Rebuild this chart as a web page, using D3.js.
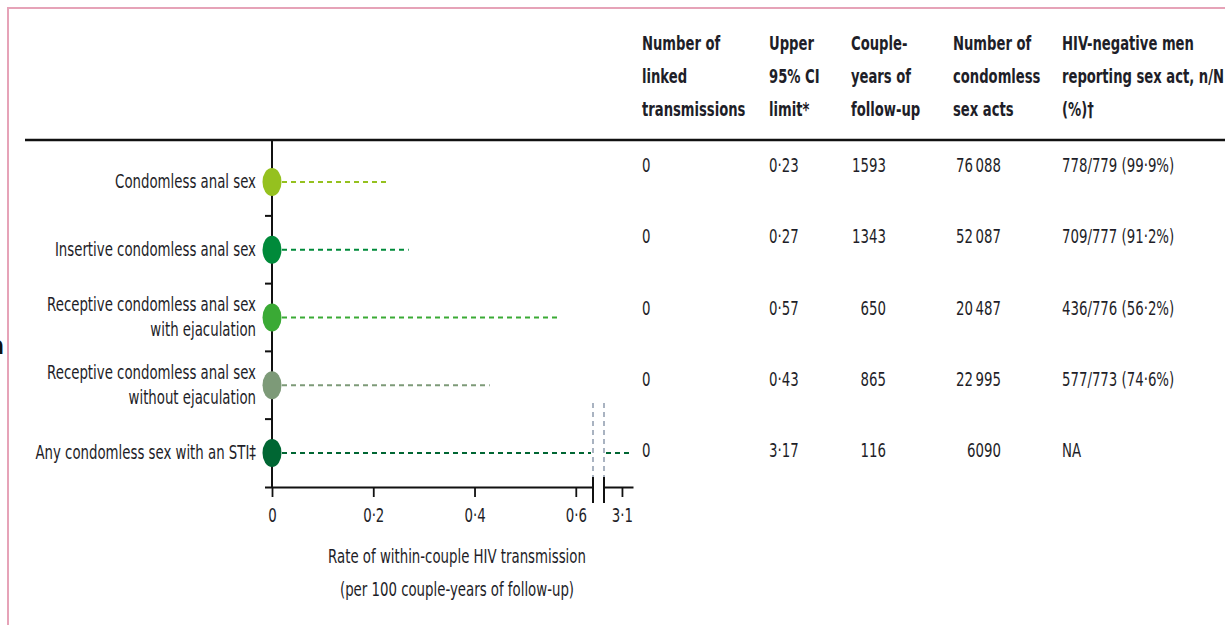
<!DOCTYPE html>
<html><head><meta charset="utf-8">
<script src="https://cdn.jsdelivr.net/npm/d3@7"></script>
<style>
html,body{margin:0;padding:0;background:#fff;}
svg{display:block;font-family:"DejaVu Sans Condensed","DejaVu Sans",sans-serif;}
</style></head>
<body>
<svg id="chart" width="1225" height="625"></svg>
<script>
// ---- data ----
const categories = [
  ["Condomless anal sex"],
  ["Insertive condomless anal sex"],
  ["Receptive condomless anal sex", "with ejaculation"],
  ["Receptive condomless anal sex", "without ejaculation"],
  ["Any condomless sex with an STI‡"]
];
const rateValues = [0, 0, 0, 0, 0];
const upperCI = [0.23, 0.27, 0.57, 0.43, 3.17];
const dotColors = ["#95c11f", "#008a3a", "#3aaa35", "#7d9a78", "#006633"];
const linkedTransmissions = ["0", "0", "0", "0", "0"];
const upperCILabels = ["0·23", "0·27", "0·57", "0·43", "3·17"];
const coupleYears = ["1593", "1343", "650", "865", "116"];
const condomlessActs = ["76\u2009088", "52\u2009087", "20\u2009487", "22\u2009995", "6090"];
const hivNegReporting = ["778/779 (99·9%)", "709/777 (91·2%)", "436/776 (56·2%)", "577/773 (74·6%)", "NA"];
const headers = [
  ["Number of", "linked", "transmissions"],
  ["Upper", "95% CI", "limit*"],
  ["Couple-", "years of", "follow-up"],
  ["Number of", "condomless", "sex acts"],
  ["HIV-negative men", "reporting sex act, n/N", "(%)†"]
];
const xTicksMain = [0, 0.2, 0.4, 0.6];
const xTickLabelsMain = ["0", "0·2", "0·4", "0·6"];
const xTicksBreak = [3.1];
const xTickLabelsBreak = ["3·1"];
const axisTitle = ["Rate of within-couple HIV transmission", "(per 100 couple-years of follow-up)"];

// ---- drawing ----
const svg = d3.select("#chart");
const textColor = "#1e1e28";
const SX = 0.78;        // horizontal condensing of text
const FS = 19;
const idx = d3.range(categories.length);

function addText(x, y, lines, opts = {}) {
  const g = svg.append("g").attr("transform", `translate(${x},${y}) scale(${opts.sx || SX},1)`);
  const t = g.append("text").attr("text-anchor", opts.anchor || "start")
    .attr("font-size", opts.fs || FS).attr("fill", opts.fill || textColor)
    .attr("font-weight", opts.weight || "normal");
  const lh = opts.lh || 25;
  const arr = Array.isArray(lines) ? lines : [lines];
  arr.forEach((l, k) => {
    t.append("tspan").attr("x", 0).attr("y", (k - (opts.center ? (arr.length - 1) / 2 : 0)) * lh).text(l);
  });
  return t;
}

const x = d3.scaleLinear().domain([0, 0.634]).range([272, 593]);
const x2 = d3.scaleLinear().domain([2.97, 3.18]).range([604, 633]);
const y = d3.scalePoint().domain(idx).range([182, 453]);
const yTable = d3.scalePoint().domain(idx).range([165, 450]);
const axisY = 487;

// pink frame
svg.append("path").attr("d", "M8,625 V8 H1225")
  .attr("fill", "none").attr("stroke", "#e6a3b8").attr("stroke-width", 2);
// stray panel letter at left edge
addText(4, 354, "a", {anchor: "end", fs: 24, weight: "bold", fill: "#111", sx: 1});

// header rule
svg.append("line").attr("x1", 25).attr("x2", 1225).attr("y1", 140).attr("y2", 140)
  .attr("stroke", "#111").attr("stroke-width", 2.5);

// table headers
const colX = [642, 769, 851, 953, 1062];
headers.forEach((lines, c) => {
  addText(colX[c], 50, lines, {weight: "bold", lh: 33, sx: 0.77});
});

// y axis line
svg.append("line").attr("x1", x(0)).attr("x2", x(0)).attr("y1", 140).attr("y2", axisY)
  .attr("stroke", "#111").attr("stroke-width", 2);
// y boundary ticks
idx.slice(0, -1).forEach(i => {
  const yy = (y(i) + y(i + 1)) / 2;
  svg.append("line").attr("x1", x(0) - 7).attr("x2", x(0)).attr("y1", yy).attr("y2", yy)
    .attr("stroke", "#111").attr("stroke-width", 2);
});

// x axis main segment
function styleAxis(g) {
  g.select(".domain").attr("stroke", "#111").attr("stroke-width", 2);
  g.selectAll(".tick line").attr("stroke", "#111").attr("stroke-width", 1.8);
  g.selectAll(".tick text").attr("font-size", FS).attr("fill", textColor)
    .attr("font-family", "DejaVu Sans Condensed, DejaVu Sans, sans-serif")
    .attr("transform", `scale(${SX},1)`);
}
const gMain = svg.append("g").attr("transform", `translate(0,${axisY})`)
  .call(d3.axisBottom(x).tickValues(xTicksMain)
    .tickFormat((d, i) => xTickLabelsMain[i]).tickSizeInner(10).tickSizeOuter(0).tickPadding(12));
styleAxis(gMain);
gMain.select(".domain").attr("d", `M265,0.5H${x.range()[1]}`);

const gBreak = svg.append("g").attr("transform", `translate(0,${axisY})`)
  .call(d3.axisBottom(x2).tickValues(xTicksBreak)
    .tickFormat((d, i) => xTickLabelsBreak[i]).tickSizeInner(10).tickSizeOuter(0).tickPadding(12));
styleAxis(gBreak);

// break marks
[x.range()[1], x2.range()[0]].forEach(bx => {
  svg.append("line").attr("x1", bx).attr("x2", bx).attr("y1", axisY - 10).attr("y2", axisY + 16)
    .attr("stroke", "#111").attr("stroke-width", 2);
  svg.append("line").attr("x1", bx).attr("x2", bx).attr("y1", 403).attr("y2", axisY - 10)
    .attr("stroke", "#8d9bad").attr("stroke-width", 1.5).attr("stroke-dasharray", "5,4");
});

// CI dashed lines
idx.forEach(i => {
  const v = upperCI[i];
  const g = svg.append("g").attr("stroke", dotColors[i]).attr("stroke-width", 2)
    .attr("stroke-dasharray", "5,4");
  if (v <= x.domain()[1]) {
    g.append("line").attr("x1", x(rateValues[i]) + 10).attr("x2", x(v))
      .attr("y1", y(i)).attr("y2", y(i));
  } else {
    g.append("line").attr("x1", x(rateValues[i]) + 10).attr("x2", x.range()[1] - 2)
      .attr("y1", y(i)).attr("y2", y(i));
    g.append("line").attr("x1", x2.range()[0] + 2).attr("x2", x2(v))
      .attr("y1", y(i)).attr("y2", y(i));
  }
});

// dots
svg.selectAll("ellipse.dot").data(idx).join("ellipse").attr("class", "dot")
  .attr("cx", i => x(rateValues[i])).attr("cy", i => y(i))
  .attr("rx", 9.5).attr("ry", 14).attr("fill", i => dotColors[i]);

// category labels
idx.forEach(i => {
  addText(256, y(i) + 6, categories[i], {anchor: "end", center: true, lh: 25});
});

// table body
const cols = [
  {vals: linkedTransmissions, x: 642, anchor: "start"},
  {vals: upperCILabels, x: 769, anchor: "start"},
  {vals: coupleYears, x: 886, anchor: "end"},
  {vals: condomlessActs, x: 1001, anchor: "end"},
  {vals: hivNegReporting, x: 1062, anchor: "start"}
];
cols.forEach(c => {
  idx.forEach(i => {
    addText(c.x, yTable(i) + 7, c.vals[i], {anchor: c.anchor});
  });
});

// axis title
addText(457, 563, axisTitle, {anchor: "middle", lh: 33});
</script>
</body></html>
